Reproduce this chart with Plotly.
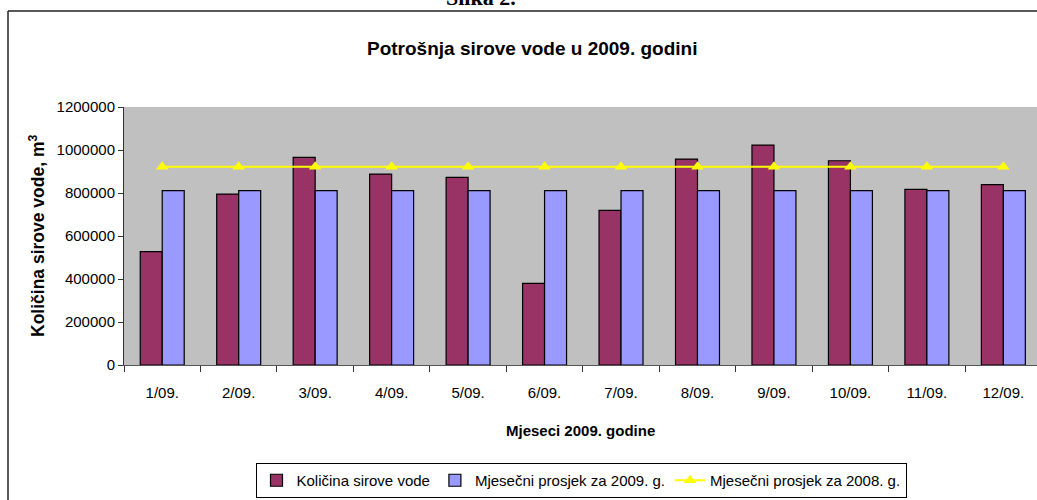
import plotly.graph_objects as go

months = ["1/09.", "2/09.", "3/09.", "4/09.", "5/09.", "6/09.",
          "7/09.", "8/09.", "9/09.", "10/09.", "11/09.", "12/09."]
kolicina = [527000, 795000, 966000, 888000, 873000, 380000,
            719000, 958000, 1023000, 950000, 817000, 839000]
prosjek_2009 = [811000, 811000, 811000, 811000, 811000, 811000,
                811000, 811000, 811000, 811000, 811000, 811000]
prosjek_2008 = [922000, 922000, 922000, 922000, 922000, 922000,
                922000, 922000, 922000, 922000, 922000, 922000]
y_ticks = [0, 200000, 400000, 600000, 800000, 1000000, 1200000]

W, H = 1037, 500
L, R, T, B = 124, 0, 107, 135
PW, PH = W - L - R, H - T - B


def px(x):
    return (x - L) / PW


def py(y):
    return (H - B - y) / PH


FONT = "Liberation Sans, Arial, sans-serif"

fig = go.Figure()
fig.add_trace(go.Bar(
    x=months, y=kolicina, name="Količina sirove vode",
    marker=dict(color="#993366", line=dict(color="#000000", width=1.2)),
))
fig.add_trace(go.Bar(
    x=months, y=prosjek_2009, name="Mjesečni prosjek za 2009. g.",
    marker=dict(color="#9999FF", line=dict(color="#000000", width=1.2)),
))
fig.add_trace(go.Scatter(
    x=months, y=prosjek_2008, name="Mjesečni prosjek za 2008. g.",
    mode="lines+markers",
    line=dict(color="#FFFF00", width=2),
    marker=dict(symbol="triangle-up", size=11, color="#FFFF00"),
))

fig.update_layout(
    width=W, height=H,
    margin=dict(l=L, r=R, t=T, b=B),
    paper_bgcolor="white",
    plot_bgcolor="#C0C0C0",
    barmode="group",
    bargap=0.425,
    bargroupgap=0,
    font=dict(family=FONT, size=15, color="#000000"),
    showlegend=True,
    legend=dict(
        orientation="h",
        x=px(581), xanchor="center",
        y=py(463), yanchor="top",
        bgcolor="white",
        bordercolor="#000000", borderwidth=1,
        font=dict(size=15, family=FONT),
        traceorder="normal",
        itemwidth=30,
    ),
    xaxis=dict(
        type="category",
        range=[-0.5, 11.44],
        showgrid=False,
        showline=True, linecolor="#555555", linewidth=1,
        ticks="outside", ticklen=6, tickcolor="#333333",
        tickson="boundaries",
        ticklabelstandoff=14,
        tickfont=dict(size=15),
        zeroline=False,
    ),
    yaxis=dict(
        range=[0, 1200000],
        tickvals=y_ticks,
        ticktext=[str(v) for v in y_ticks],
        showgrid=False,
        showline=True, linecolor="#333333", linewidth=1,
        ticks="outside", ticklen=5, tickcolor="#333333",
        tickfont=dict(size=15),
        zeroline=False,
    ),
    annotations=[
        dict(text="<b>Potrošnja sirove vode u 2009. godini</b>",
             xref="paper", yref="paper", x=px(532), y=py(48),
             xanchor="center", yanchor="middle", showarrow=False,
             font=dict(size=19, family=FONT)),
        dict(text="<b>Mjeseci 2009. godine</b>",
             xref="paper", yref="paper", x=px(580), y=py(430),
             xanchor="center", yanchor="middle", showarrow=False,
             font=dict(size=15, family=FONT)),
        dict(text="<b>Količina sirove vode, m<sup>3</sup></b>",
             xref="paper", yref="paper", x=px(37), y=py(236),
             xanchor="center", yanchor="middle", showarrow=False,
             textangle=-90,
             font=dict(size=17.5, family=FONT)),
        dict(text="<b>Slika 2.</b>",
             xref="paper", yref="paper", x=px(481), y=py(12),
             xanchor="center", yanchor="bottom", showarrow=False,
             font=dict(size=22, family="Liberation Serif, Times New Roman, serif")),
    ],
    shapes=[
        dict(type="line", xref="paper", yref="paper",
             x0=px(8), x1=px(8), y0=py(11), y1=py(520),
             line=dict(color="#222222", width=1.5)),
        dict(type="line", xref="paper", yref="paper",
             x0=px(8), x1=px(1060), y0=py(11), y1=py(11),
             line=dict(color="#222222", width=1.5)),
    ],
)

fig.write_html(
    "out.html",
    config={"displayModeBar": False},
    post_script="document.body.style.margin='0';document.body.style.overflow='hidden';",
)
